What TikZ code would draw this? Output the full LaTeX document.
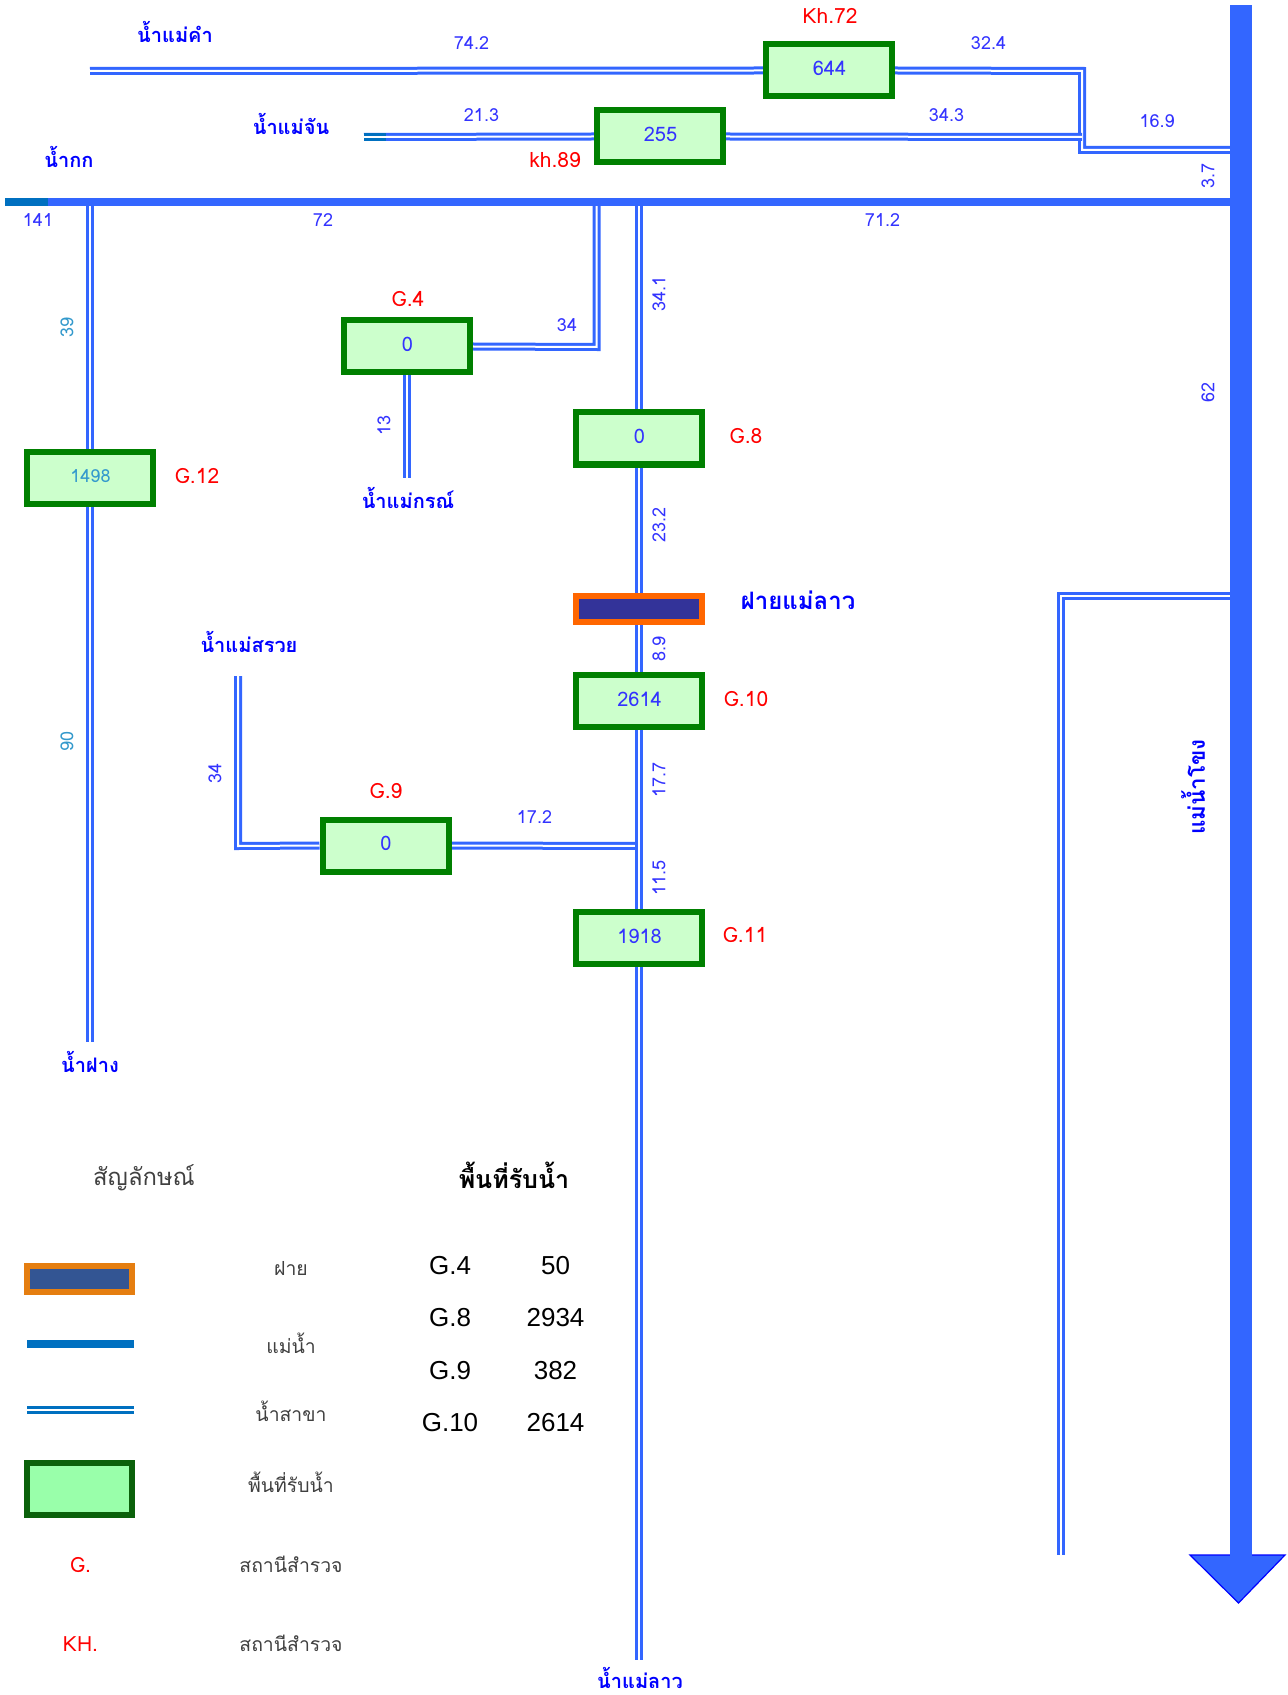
\documentclass[tikz,border=0pt]{standalone}
\usepackage{fontspec}
\newfontfamily\thaifont[Script=Thai]{Loma}
\setmainfont{Liberation Sans}
\usetikzlibrary{backgrounds}
\definecolor{rv}{HTML}{3366FF}
\definecolor{rvb}{HTML}{0070C0}
\definecolor{lab}{HTML}{3333FF}
\definecolor{labl}{HTML}{3399CC}
\definecolor{thb}{HTML}{0000FF}
\definecolor{boxg}{HTML}{008000}
\definecolor{boxf}{HTML}{CCFFCC}
\definecolor{leggreen}{HTML}{0B610B}
\definecolor{legfill}{HTML}{99FFAA}
\definecolor{damo}{HTML}{FF6600}
\definecolor{damf}{HTML}{333399}
\definecolor{legdamo}{HTML}{E57E10}
\definecolor{legdamf}{HTML}{335593}
\newcommand{\stv}[1]{\raisebox{1.7pt}{\hspace{0.5pt}#1}}
\tikzset{
  station/.style={draw=boxg,fill=boxf,line width=3pt,minimum width=63pt,minimum height=26pt,inner sep=0pt,text=lab,font=\thaifont\fontsize{10}{12}\selectfont},
  damnode/.style={draw=damo,fill=damf,line width=3pt,inner sep=0pt,minimum width=63pt,minimum height=13pt},
  trib/.style={draw=rv,line width=1.5pt,double=white,double distance=1pt,line cap=butt},
  tribb/.style={draw=rvb,line width=1.5pt,double=white,double distance=1pt},
  thick river/.style={fill=rv,draw=none,inner sep=0pt},
  km/.style={text=lab,inner sep=0pt,font=\thaifont\fontsize{9}{11}\selectfont},
  kml/.style={text=labl,inner sep=0pt,font=\thaifont\fontsize{9}{11}\selectfont},
  stn/.style={text=red,inner sep=0pt,font=\thaifont\fontsize{10.5}{12}\selectfont},
  riv/.style={text=thb,inner sep=0pt,font=\thaifont\bfseries\fontsize{10}{13}\selectfont},
  leg/.style={text=black!75,inner sep=0pt,font=\thaifont\fontsize{9.7}{13}\selectfont},
  tbl/.style={text=black,inner sep=0pt,font=\fontsize{13}{15}\selectfont},
}
\begin{document}
\begin{tikzpicture}[x=0.5pt,y=-0.5pt]
\useasboundingbox (0,0) rectangle (1288,1695);
% thick rivers
\node[thick river,minimum width=11pt,minimum height=775pt] (mekong) at (1241,780) {};
\node[thick river,minimum width=613pt,minimum height=4pt] (kok) at (618,202) {};
\fill[rvb] (5,198) rectangle (48,206);
\draw[fill=rv,draw=thb,line width=0.6pt] (1190,1555) -- (1285,1555) -- (1238.5,1603) -- cycle;
\fill[rv] (1230,1540) rectangle (1252,1555.5);
% stations
\node[station] (k72) at (829,70.5) {\stv{644}};
\node[station] (k89) at (660,136.5) {\stv{255}};
\node[station] (g4) at (407,346.5) {\stv{0}};
\node[station] (g8) at (639,438.5) {\stv{0}};
\node[station] (g10) at (639,701) {\stv{2614}};
\node[station] (g9) at (385.5,845.5) {\stv{0}};
\node[station] (g11) at (639,938) {\stv{1918}};
\node[station,text=labl,font=\thaifont\fontsize{9}{11}\selectfont] (g12) at (90,478) {\stv{1498}};
\node[damnode] (dam) at (639,609) {};
% free ends
\coordinate (khamEnd) at (90,71);
\coordinate (junA) at (1082,71);
\coordinate (junB) at (1082,150);
\coordinate (meA) at (1231,150);
\coordinate (chanEnd) at (364,137);
\coordinate (chanC) at (386,137);
\coordinate (junC) at (1082,137);
\coordinate (fangEnd) at (90,1042);
\coordinate (fangTop) at (90,206);
\coordinate (laoTop) at (639,206);
\coordinate (laoEnd) at (639,1660);
\coordinate (g4T) at (596.5,206);
\coordinate (g4C) at (596.5,347);
\coordinate (kornEnd) at (407,478);
\coordinate (sA) at (1231,596);
\coordinate (sB) at (1061,596);
\coordinate (sC) at (1061,1555);
\coordinate (sueayEnd) at (238,676);
\coordinate (sueayC) at (238,846);
\coordinate (g9J) at (639,846);
\begin{pgfonlayer}{background}
\fill[white] (0,0) rectangle (1288,1695);
\draw[trib] (khamEnd) -- (k72.west);
\draw[trib] (k72.east) -- (junA) -- (junB) -- (meA);
\draw[trib] (k89.east) -- (junC);
\draw[trib] (chanEnd) -- (k89.west);
\draw[tribb] (chanEnd) -- (chanC);
\draw[trib] (fangTop) -- (fangEnd);
\draw[trib] (g4T) -- (g4C) -- (g4.east);
\draw[trib] (g4.south) -- (kornEnd);
\draw[trib] (sA) -- (sB) -- (sC);
\draw[trib] (sueayEnd) -- (sueayC) -- (g9.west);
\draw[trib] (g9.east) -- (g9J);
\draw[trib] (laoTop) -- (laoEnd);
\end{pgfonlayer}
% distance labels
\node[km] (d1) at (471.5,43) {74.2};
\node[km] (d2) at (988.5,43) {32.4};
\node[km] (d3) at (481.5,115) {21.3};
\node[km] (d4) at (946.5,115) {34.3};
\node[km] (d5) at (1157,121) {16.9};
\node[km,rotate=90] (d6) at (1208,176) {3.7};
\node[km] (d7) at (38,220) {141};
\node[km] (d8) at (323,220) {72};
\node[km] (d9) at (882.5,220) {71.2};
\node[km] (d10) at (567,325) {34};
\node[kml,rotate=90] (d11) at (67,327) {39};
\node[kml,rotate=90] (d12) at (67,741) {90};
\node[km,rotate=90] (d13) at (384,425) {13};
\node[km,rotate=90] (d14) at (659,294) {34.1};
\node[km,rotate=90] (d15) at (659,525) {23.2};
\node[km,rotate=90] (d16) at (659,649) {8.9};
\node[km,rotate=90] (d17) at (659,780) {17.7};
\node[km,rotate=90] (d18) at (659,878) {11.5};
\node[km,rotate=90] (d19) at (215,773) {34};
\node[km] (d20) at (534.5,817) {17.2};
\node[km,rotate=90] (d21) at (1208,392) {62};
% station labels
\node[stn] (l1) at (830,16) {Kh.72};
\node[stn] (l2) at (555,160) {kh.89};
\node[stn] (l3) at (408,299) {G.4};
\node[stn] (l4) at (746,436) {G.8};
\node[stn] (l5) at (197,476) {G.12};
\node[stn] (l6) at (386,791) {G.9};
\node[stn] (l7) at (746,699) {G.10};
\node[stn] (l8) at (745,935) {G.11};
% river names
\node[riv] (r1) at (175,32) {น้ำแม่คำ};
\node[riv] (r2) at (291,124) {น้ำแม่จัน};
\node[riv] (r3) at (69,157) {น้ำกก};
\node[riv] (r4) at (408,498) {น้ำแม่กรณ์};
\node[riv,font=\thaifont\bfseries\fontsize{12}{14}\selectfont] (r5) at (798,600) {ฝายแม่ลาว};
\node[riv] (r6) at (249,642) {น้ำแม่สรวย};
\node[riv] (r7) at (90,1062) {น้ำฝาง};
\node[riv] (r8) at (640,1678) {น้ำแม่ลาว};
\node[riv,rotate=90,font=\thaifont\bfseries\fontsize{11.2}{15}\selectfont] (r9) at (1193,787) {แม่น้ำโขง};
% legend
\node[leg,font=\thaifont\fontsize{11.9}{15}\selectfont] (t1) at (144,1178) {สัญลักษณ์};
\node[text=black,inner sep=0pt,font=\thaifont\bfseries\fontsize{12.5}{15}\selectfont] (t2) at (514,1175) {พื้นที่รับน้ำ};
\node[draw=legdamo,fill=legdamf,line width=3pt,minimum width=52.5pt,minimum height=13pt,inner sep=0pt] (lg1) at (79.5,1279) {};
\fill[rvb] (27,1340) rectangle (134,1348);
\draw[tribb] (27,1410) -- (134,1410);
\node[draw=leggreen,fill=legfill,line width=3pt,minimum width=52.5pt,minimum height=26pt,inner sep=0pt] (lg4) at (79.5,1489) {};
\node[stn] (lg5) at (80.5,1565) {G.};
\node[stn] (lg6) at (80.5,1644) {KH.};
\node[leg] (a1) at (291,1268) {ฝาย};
\node[leg] (a2) at (291,1343) {แม่น้ำ};
\node[leg] (a3) at (291,1411) {น้ำสาขา};
\node[leg] (a4) at (291,1482) {พื้นที่รับน้ำ};
\node[leg] (a5) at (291,1564) {สถานีสำรวจ};
\node[leg] (a6) at (291,1643) {สถานีสำรวจ};
% table
\node[tbl] (b1) at (450,1265.5) {G.4};
\node[tbl] (c1) at (555.5,1265.5) {50};
\node[tbl] (b2) at (450,1317.5) {G.8};
\node[tbl] (c2) at (555.5,1317.5) {2934};
\node[tbl] (b3) at (450,1370.5) {G.9};
\node[tbl] (c3) at (555.5,1370.5) {382};
\node[tbl] (b4) at (450,1422.5) {G.10};
\node[tbl] (c4) at (555.5,1422.5) {2614};
\end{tikzpicture}
\end{document}
